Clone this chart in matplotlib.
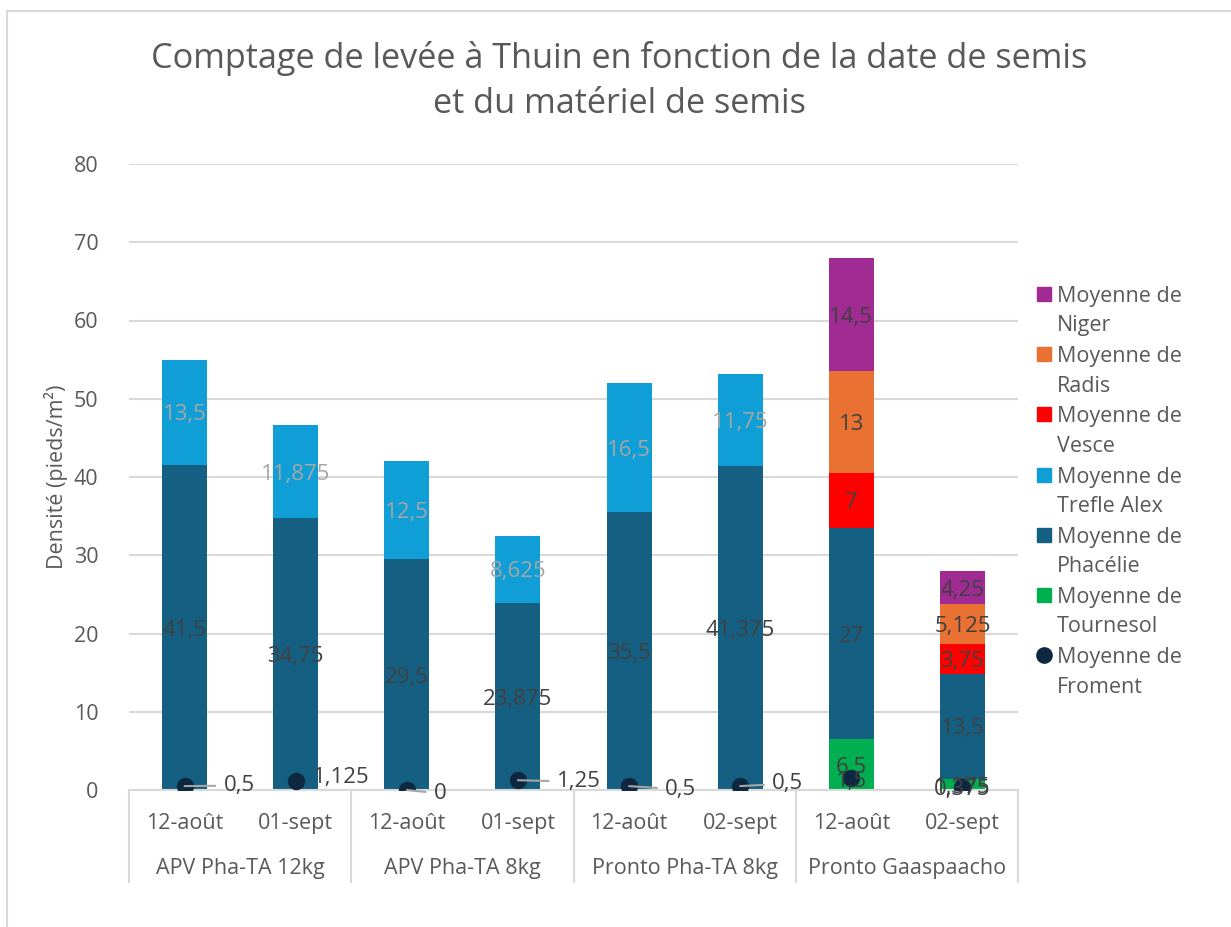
import matplotlib.pyplot as plt
from matplotlib.patches import Rectangle
from matplotlib.lines import Line2D
import numpy as np

plt.rcParams["font.family"] = ["Open Sans", "DejaVu Sans"]

GREY = "#595959"
LABEL_DARK = "#404040"
LABEL_LIGHT = "#A6A6A6"
GRID = "#D9D9D9"

groups = ["APV Pha-TA 12kg", "APV Pha-TA 8kg", "Pronto Pha-TA 8kg", "Pronto Gaaspaacho"]
dates = ["12-août", "01-sept", "12-août", "01-sept", "12-août", "02-sept", "12-août", "02-sept"]

# séries empilées (du bas vers le haut)
tournesol = [0, 0, 0, 0, 0, 0, 6.5, 1.375]
phacelie = [41.5, 34.75, 29.5, 23.875, 35.5, 41.375, 27, 13.5]
trefle = [13.5, 11.875, 12.5, 8.625, 16.5, 11.75, 0, 0]
vesce = [0, 0, 0, 0, 0, 0, 7, 3.75]
radis = [0, 0, 0, 0, 0, 0, 13, 5.125]
niger = [0, 0, 0, 0, 0, 0, 14.5, 4.25]
froment = [0.5, 1.125, 0, 1.25, 0.5, 0.5, 1.5, 0.375]

stack = [
    ("Moyenne de\nTournesol", tournesol, "#00B050", LABEL_DARK),
    ("Moyenne de\nPhacélie", phacelie, "#156082", LABEL_DARK),
    ("Moyenne de\nTrefle Alex", trefle, "#0F9ED5", LABEL_LIGHT),
    ("Moyenne de\nVesce", vesce, "#FF0000", LABEL_DARK),
    ("Moyenne de\nRadis", radis, "#E97132", LABEL_DARK),
    ("Moyenne de\nNiger", niger, "#A02B93", LABEL_DARK),
]
FROMENT_COLOR = "#0E2841"

# décalage des étiquettes Froment (pixels, vers le haut > 0), avec ou sans trait de rappel
froment_offsets = [(39, 3, True), (17, 6, False), (27, -1, True), (39, 1, True),
                   (36, -1, True), (32, 5, True), (0, -1, False), (0, 0, False)]


def fmt(v):
    return f"{v:g}".replace(".", ",")


fig = plt.figure(figsize=(12.31, 9.27), dpi=100)
W, H = 1231, 927
ax = fig.add_axes([129 / W, 1 - 790 / H, (1018 - 129) / W, (790 - 164) / H])

x = np.arange(len(dates))
bottom = np.zeros(len(dates))
for name, vals, color, lcol in stack:
    vals = np.array(vals, dtype=float)
    ax.bar(x, vals, 0.405, bottom=bottom, color=color, zorder=2)
    for xi, b, v in zip(x, bottom, vals):
        if v > 0:
            ax.text(xi, b + v / 2, fmt(v), ha="center", va="center_baseline",
                    fontsize=16, color=lcol, zorder=4)
    bottom += vals

ax.plot(x, froment, "o", color=FROMENT_COLOR, markersize=11.5, zorder=5)
for xi, v, (dx, dy, lead) in zip(x, froment, froment_offsets):
    if dx == 0:
        ax.annotate(fmt(v), (xi, v), xytext=(0, dy), textcoords="offset pixels",
                    ha="center", va="center_baseline", fontsize=16,
                    color=LABEL_DARK, zorder=6)
    else:
        ax.annotate(fmt(v), (xi, v), xytext=(dx, dy), textcoords="offset pixels",
                    ha="left", va="center_baseline", fontsize=16, color=LABEL_DARK,
                    zorder=6,
                    arrowprops=dict(arrowstyle="-", color=LABEL_LIGHT, lw=1.5,
                                    shrinkA=4, shrinkB=0) if lead else None)

ax.set_xlim(-0.5, len(dates) - 0.5)
ax.set_ylim(0, 80)
ax.set_yticks(range(0, 81, 10))
ax.grid(axis="y", color=GRID, lw=1.5, zorder=0)
ax.set_axisbelow(True)
for s in ["top", "right", "left"]:
    ax.spines[s].set_visible(False)
ax.spines["bottom"].set_color(GRID)
ax.spines["bottom"].set_linewidth(1.5)
ax.tick_params(axis="y", length=0, pad=22, labelsize=15.5, labelcolor=GREY)
ax.tick_params(axis="x", length=0, labelbottom=False)

# axe des catégories à deux niveaux
tr = ax.get_xaxis_transform()
for xi, d in zip(x, dates):
    ax.text(xi, -31 / 626, d, transform=tr, ha="center", va="center_baseline",
            fontsize=15.5, color=GREY, clip_on=False)
for gi, g in enumerate(groups):
    ax.text(2 * gi + 0.5, -76 / 626, g, transform=tr, ha="center", va="center_baseline",
            fontsize=15.5, color=GREY, clip_on=False)
for b in np.arange(-0.5, len(dates), 2):
    ax.add_line(Line2D([b, b], [0, -92 / 626], transform=tr, color=GRID,
                       lw=1.5, clip_on=False))

ax.set_ylabel("Densité (pieds/m²)", fontsize=15.5, color=GREY, labelpad=4)

fig.text(0.503, 1 - 55 / H, "Comptage de levée à Thuin en fonction de la date de semis",
         ha="center", va="center_baseline", fontsize=24.7, color=GREY)
fig.text(0.503, 1 - 100 / H, "et du matériel de semis",
         ha="center", va="center_baseline", fontsize=24.7, color=GREY)

# légende
legend_items = [(n, c, "s") for n, _, c, _ in stack[::-1]]
legend_items.append(("Moyenne de\nFroment", FROMENT_COLOR, "o"))
for i, (name, color, mk) in enumerate(legend_items):
    y0 = 294 + i * 60.2
    fig.lines.append(Line2D([1044 / W], [1 - y0 / H], transform=fig.transFigure,
                            marker=mk, color=color, markersize=10 if mk == "s" else 11,
                            linestyle="none"))
    first, second = name.split("\n")
    fig.text(1057 / W, 1 - y0 / H, first, ha="left", va="center_baseline",
             fontsize=15.5, color=GREY)
    fig.text(1057 / W, 1 - (y0 + 29.5) / H, second, ha="left", va="center_baseline",
             fontsize=15.5, color=GREY)

fig.patches.append(Rectangle((7 / W, -0.05), 1.2, 1 - 11 / H + 0.05, transform=fig.transFigure,
                             fill=False, edgecolor=GRID, lw=1.5))

fig.savefig("out.png", dpi=100)
